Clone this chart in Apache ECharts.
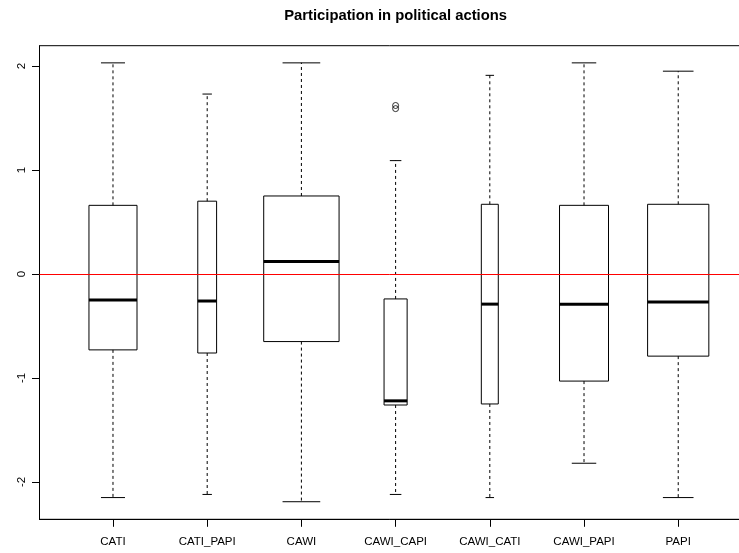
<!DOCTYPE html>
<html><head><meta charset="utf-8">
<script src="https://cdn.jsdelivr.net/npm/echarts@6/dist/echarts.min.js"></script>
<style>html,body{margin:0;padding:0;background:#fff}#chart{width:739px;height:553px}</style>
</head><body><div id="chart"></div>
<script>
// ---- data ----
const categories = ['CATI', 'CATI_PAPI', 'CAWI', 'CAWI_CAPI', 'CAWI_CATI', 'CAWI_PAPI', 'PAPI'];
const lowerWhisker = [-2.15, -2.12, -2.19, -2.12, -2.15, -1.82, -2.15];
const q1 = [-0.73, -0.76, -0.65, -1.26, -1.25, -1.03, -0.79];
const median = [-0.25, -0.26, 0.12, -1.22, -0.29, -0.29, -0.27];
const q3 = [0.66, 0.70, 0.75, -0.24, 0.67, 0.66, 0.67];
const upperWhisker = [2.03, 1.73, 2.03, 1.09, 1.91, 2.03, 1.95];
const outlierCategory = ['CAWI_CAPI', 'CAWI_CAPI'];
const outlierValues = [1.62, 1.59];
const yTickValues = [-2, -1, 0, 1, 2];
const referenceValue = 0;
const titleText = 'Participation in political actions';

// ---- style (relative box widths, fraction of category spacing) ----
const boxRelWidth = [0.51, 0.20, 0.80, 0.245, 0.18, 0.52, 0.65];

const FONT = '"Liberation Sans", Arial, Helvetica, sans-serif';
const positions = categories.map((c, i) => i + 1);
const boxData = categories.map((c, i) => [positions[i], lowerWhisker[i], q1[i], median[i], q3[i], upperWhisker[i]]);
const outlierData = outlierValues.map((v, i) => [categories.indexOf(outlierCategory[i]) + 1, v]);

const chart = echarts.init(document.getElementById('chart'), null, { renderer: 'canvas' });

function renderBox(params, api) {
  const x = api.value(0);
  const pLow = api.coord([x, api.value(1)]);
  const pQ1 = api.coord([x, api.value(2)]);
  const pMed = api.coord([x, api.value(3)]);
  const pQ3 = api.coord([x, api.value(4)]);
  const pHigh = api.coord([x, api.value(5)]);
  const w = api.size([boxRelWidth[params.dataIndex], 0])[0];
  const cx = pMed[0];
  const half = w / 2, capHalf = w / 4;
  const dashed = { stroke: '#000', lineWidth: 1, lineDash: [3, 3], fill: null };
  const solid = { stroke: '#000', lineWidth: 1, fill: null };
  const ln = (x1, y1, x2, y2, style) => ({ type: 'line', shape: { x1, y1, x2, y2 }, style });
  return {
    type: 'group',
    children: [
      ln(cx, pQ3[1], cx, pHigh[1], dashed),
      ln(cx, pQ1[1], cx, pLow[1], dashed),
      ln(cx - capHalf, pHigh[1], cx + capHalf, pHigh[1], solid),
      ln(cx - capHalf, pLow[1], cx + capHalf, pLow[1], solid),
      { type: 'rect', shape: { x: cx - half, y: pQ3[1], width: w, height: pQ1[1] - pQ3[1] },
        style: { stroke: '#000', lineWidth: 1, fill: 'rgba(0,0,0,0)' } },
      ln(cx - half, pMed[1], cx + half, pMed[1], { stroke: '#000', lineWidth: 3, fill: null })
    ]
  };
}

chart.setOption({
  animation: false,
  backgroundColor: '#fff',
  title: {
    text: titleText,
    left: 390.6, top: 3, textAlign: 'center',
    textStyle: { fontFamily: FONT, fontWeight: 'bold', fontSize: 14.8, color: '#000' }
  },
  grid: { left: 39.5, width: 712.2, top: 45.7, height: 473.6, outerBoundsMode: 'none', containLabel: false,
    show: true, borderColor: '#000', borderWidth: 1, backgroundColor: 'transparent' },
  xAxis: {
    type: 'value', min: 0.22, max: 7.78,
    axisLine: { show: true, onZero: false, lineStyle: { color: '#000', width: 1 } },
    splitLine: { show: false },
    axisTick: { show: true, customValues: positions, length: 7.5, lineStyle: { color: '#000' } },
    axisLabel: { customValues: positions, formatter: v => categories[Math.round(v) - 1] || '',
      fontFamily: FONT, fontSize: 11.5, color: '#000', margin: 16.5 }
  },
  yAxis: {
    type: 'value', min: -2.359, max: 2.195,
    axisLine: { show: true, onZero: false, lineStyle: { color: '#000', width: 1 } },
    splitLine: { show: false },
    axisTick: { show: true, customValues: yTickValues, length: 7.5, lineStyle: { color: '#000' } },
    axisLabel: { customValues: yTickValues, rotate: 90, formatter: v => String(v),
      fontFamily: FONT, fontSize: 11.5, color: '#000', margin: 11.5 }
  },
  series: [
    {
      type: 'custom', z: 2, renderItem: renderBox, data: boxData, silent: true,
      encode: { x: 0, y: [1, 2, 3, 4, 5] }
    },
    {
      type: 'scatter', z: 5, data: outlierData, symbol: 'circle', symbolSize: 6, silent: true,
      itemStyle: { color: 'rgba(0,0,0,0)', borderColor: '#000', borderWidth: 1 },
      markLine: {
        silent: true, symbol: ['none', 'none'], label: { show: false },
        lineStyle: { color: '#ff0000', width: 1, type: 'solid' },
        data: [{ yAxis: referenceValue }]
      }
    }
  ]
});
</script>
</body></html>
